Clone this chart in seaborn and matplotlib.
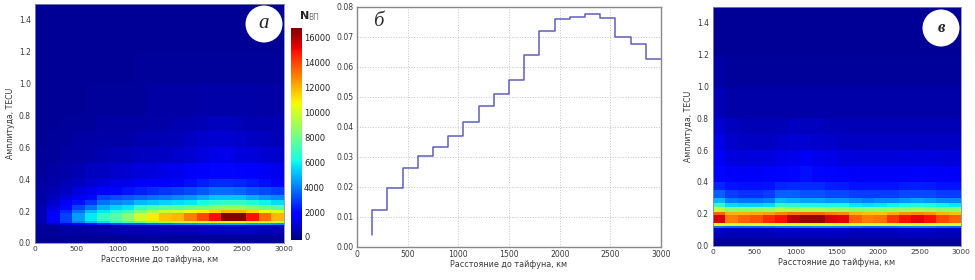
import numpy as np
import matplotlib
matplotlib.use("Agg")
import matplotlib.pyplot as plt
from matplotlib.patches import Ellipse
import seaborn as sns

# bin edges
dist_edges = [0,150,300,450,600,750,900,1050,1200,1350,1500,1650,1800,1950,2100,2250,2400,2550,2700,2850,3000]
amp_edges = [0,.05,.11,.125,.14,.19,.21,.24,.27,.30,.35,.40,.50,.60,.70,.80,1.0,1.2,1.5]

# panel a, counts in thousands, rows bottom to top
counts_a = [
 [.1,.1,.1,.1,.1,.1,.1,.2,.2,.2,.2,.2,.2,.2,.2,.2,.2,.2,.2,.2],
 [.2,.2,.3,.3,.4,.4,.5,.5,.5,.6,.6,.6,.6,.7,.7,.7,.7,.7,.6,.6],
 [.4,.8,1.2,1.6,2.2,2.6,3,3.3,3.5,3.8,4,4.2,4.3,4.5,4.6,4.8,4.8,4.6,4.5,4.3],
 [.5,1.6,2.8,4,5,5.6,6.2,7,8,8.5,9,9.5,9.8,10,10.3,10.6,10.6,10.3,10,9.8],
 [.5,1.8,3,4.5,5.8,6.8,7.5,8.5,10,11,11.8,12,13,14,15,16.8,16.8,15,13.3,12],
 [.5,1.5,2.6,3.8,5,5.8,6.4,7,8.4,9.2,9.8,10,10.6,11,11.4,12,12,11.4,10.6,10.4],
 [.5,1.2,2,3,3.8,4.8,5.4,5.8,6.8,7.2,7.4,7.6,8,8.2,8.6,8.8,8.8,8.4,8,7.6],
 [.4,.9,1.5,2.1,2.8,3.8,4.2,4.4,5,5.2,5.4,5.6,5.8,6.2,6.6,6.8,6.8,6.4,6,5.6],
 [.4,.7,1.1,1.5,2,3,3.2,3.4,3.6,3.8,4,4.2,4.4,4.8,5.2,5.2,5.2,4.8,4.4,4.2],
 [.3,.5,.8,1.1,1.4,1.8,2,2.2,2.4,2.6,2.8,2.9,3.1,3.4,3.7,3.7,3.6,3.3,3.1,2.9],
 [.3,.4,.6,.8,1,1.2,1.3,1.4,1.6,1.7,1.8,1.9,2.1,2.4,2.6,2.6,2.5,2.3,2.1,1.9],
 [.2,.3,.4,.5,.7,.8,.9,1,1.1,1.2,1.3,1.4,1.6,1.8,2,2,1.9,1.7,1.5,1.4],
 [.2,.2,.3,.3,.4,.5,.6,.6,.7,.8,.8,.9,1,1.2,1.3,1.4,1.2,1.1,1,.9],
 [.1,.2,.2,.3,.3,.4,.4,.4,.5,.5,.6,.6,.8,.9,1,1,.9,.8,.7,.6],
 [.1,.1,.2,.2,.2,.3,.3,.3,.3,.4,.4,.5,.5,.6,.7,.7,.6,.5,.5,.5],
 [.1,.1,.1,.1,.2,.2,.2,.2,.2,.3,.3,.3,.3,.4,.4,.4,.4,.4,.3,.3],
 [.1,.1,.1,.1,.1,.1,.1,.1,.2,.2,.2,.2,.2,.2,.2,.2,.2,.2,.2,.2],
 [.1,.1,.1,.1,.1,.1,.1,.1,.1,.1,.1,.1,.1,.1,.1,.1,.1,.1,.1,.1],
]

# panel v, counts in thousands, rows bottom to top
counts_v = [
 [.2,.2,.2,.2,.2,.2,.2,.2,.2,.2,.2,.2,.2,.2,.2,.2,.2,.2,.2,.2],
 [.7,.6,.6,.6,.6,.7,.7,.7,.7,.7,.7,.6,.6,.6,.6,.7,.7,.7,.6,.6],
 [3.8,3.6,3.6,3.6,3.7,3.9,4,4,4.1,4,4,3.8,3.6,3.6,3.7,3.9,4,3.9,3.7,3.6],
 [10.6,10.2,10.2,10.3,10.5,10.6,10.7,10.8,10.8,10.7,10.6,10.4,10.3,10.3,10.4,10.6,10.7,10.6,10.4,10.3],
 [15.5,13,13.5,13.8,14.5,15,16,16.4,16.4,15.5,15.3,13.5,13,13.2,14.3,15,15.3,15,14,13.5],
 [13.5,12,12,12.2,12.4,12.8,13.2,13.4,13.4,13,12.8,12,11.8,11.8,12.2,12.6,12.8,12.6,12,11.8],
 [9.6,8.6,8.6,8.6,8.8,9.4,9.2,9.2,9.2,9,8.8,8.6,8.4,8.6,8.8,8.8,9,8.8,8.6,8.6],
 [6.8,5.6,5.4,5.4,5.6,6.8,6.6,6.4,6.4,6.2,6.2,5.8,5.6,5.8,6,6.2,6.4,6.2,6,5.8],
 [5,4,3.8,3.8,4,5,4.8,4.6,4.6,4.4,4.4,4.2,4,4.2,4.2,4.4,4.6,4.4,4.2,4.2],
 [3.5,2.9,2.7,2.7,2.9,3.5,3.5,3.3,3.3,3.1,3.1,2.9,2.9,2.9,2.9,3.1,3.1,3.1,2.9,2.9],
 [2.5,2.2,2.1,2.1,2.2,2.5,2.6,2.6,2.6,2.4,2.3,2.2,2.2,2.2,2.2,2.3,2.4,2.3,2.2,2.2],
 [2,1.6,1.6,1.6,1.7,1.9,2,2.1,2,1.9,1.8,1.6,1.5,1.5,1.6,1.6,1.7,1.6,1.6,1.5],
 [1.5,1.2,1.1,1.2,1.2,1.3,1.4,1.5,1.4,1.3,1.2,1.2,1.1,1.1,1.1,1.2,1.2,1.2,1.1,1.1],
 [1.3,.9,.8,.8,.8,.9,1,1,.9,.9,.8,.8,.8,.8,.8,.8,.8,.8,.8,.8],
 [1,.7,.6,.6,.6,.6,.7,.7,.7,.6,.6,.6,.6,.6,.6,.6,.6,.6,.6,.6],
 [.6,.4,.4,.4,.4,.4,.4,.4,.4,.4,.4,.4,.4,.4,.4,.4,.4,.4,.4,.4],
 [.3,.2,.2,.2,.2,.2,.2,.2,.2,.2,.2,.2,.2,.2,.2,.2,.2,.2,.2,.2],
 [.1,.1,.1,.1,.1,.1,.1,.1,.1,.1,.1,.1,.1,.1,.1,.1,.1,.1,.1,.1],
]

# panel b, step curve
step_dist = [150,150,300,450,600,750,900,1050,1200,1350,1500,1650,1800,1950,2100,2250,2400,2550,2700,2850,3000]
step_prob = [.004,.0123,.0197,.0263,.0303,.0333,.037,.0417,.047,.051,.0555,.0638,.072,.076,.0765,.0778,.0762,.07,.0675,.0625,.0625]

xticks = [0,500,1000,1500,2000,2500,3000]
amp_ticks = [0,.2,.4,.6,.8,1.0,1.2,1.4]
prob_ticks = [0,.01,.02,.03,.04,.05,.06,.07,.08]
cbar_ticks = [0,2000,4000,6000,8000,10000,12000,14000,16000]
xlabel = "Расстояние до тайфуна, км"
ylabel = "Амплитуда, TECU"

sns.set_theme(style="white")
plt.rcParams["font.family"] = ["DejaVu Sans"]
W, H = 975, 280
TXT = "#3a3a3a"

def box(x0, y0, x1, y1):
    return [x0 / W, 1 - y1 / H, (x1 - x0) / W, (y1 - y0) / H]

fig = plt.figure(figsize=(W / 100, H / 100), dpi=100)

def heat(pos, counts, letter, cxy, bold=False):
    ax = fig.add_axes(box(*pos))
    m = ax.pcolormesh(dist_edges, amp_edges, np.array(counts) * 1000, cmap="jet",
                      vmin=-250, vmax=16800, shading="flat", rasterized=True)
    ax.set_xlim(0, 3000)
    ax.set_ylim(0, 1.5)
    ax.set_xticks(xticks)
    ax.set_yticks(amp_ticks)
    ax.set_yticklabels([f"{t:.1f}" for t in amp_ticks])
    ax.tick_params(axis="x", labelsize=5.4, colors=TXT, length=0, pad=2.5)
    ax.tick_params(axis="y", labelsize=5.5, colors=TXT, length=0, pad=3)
    ax.set_xlabel(xlabel, fontsize=5.8, color=TXT, labelpad=2)
    ax.set_ylabel(ylabel, fontsize=5.6, color=TXT, labelpad=3)
    for s in ax.spines.values():
        s.set_linewidth(0.6)
        s.set_color("#8888aa")
    fx = (cxy[0] - pos[0]) / (pos[2] - pos[0])
    fy = (pos[3] - cxy[1]) / (pos[3] - pos[1])
    ax.add_patch(Ellipse((fx, fy), 37 / (pos[2] - pos[0]), 37 / (pos[3] - pos[1]),
                         transform=ax.transAxes, fc="white", ec="none", zorder=5))
    ax.text(fx, fy, letter, transform=ax.transAxes, ha="center", va="center", zorder=6,
            family="Liberation Serif", style="italic", fontweight="bold" if bold else "normal",
            fontsize=15 if not bold else 12, color="#222222")
    return ax, m

ax_a, mesh = heat((35, 4, 283.5, 243), counts_a, "а", (264, 24))
ax_v, _ = heat((713, 7, 961, 245.5), counts_v, "в", (941, 28), bold=True)

cax = fig.add_axes(box(291, 28, 302, 240))
cb = fig.colorbar(mesh, cax=cax, ticks=cbar_ticks)
cb.ax.tick_params(labelsize=6, colors="#222222", length=0, pad=1.5)
cb.outline.set_visible(False)
fig.text(300 / W, 1 - 16 / H, "N", fontsize=8, fontweight="bold", color="#222222", ha="left", va="center")
fig.text(308 / W, 1 - 18 / H, "ВП", fontsize=5.5, color="#777777", ha="left", va="center")

ax_b = fig.add_axes(box(357, 7, 661, 246.5))
sns.lineplot(x=step_dist, y=step_prob, ax=ax_b, drawstyle="steps-post", sort=False,
             estimator=None, errorbar=None, color="#5f5fc0", linewidth=1.1)
ax_b.set_xlim(0, 3000)
ax_b.set_ylim(0, .08)
ax_b.set_xticks(xticks)
ax_b.set_yticks(prob_ticks)
ax_b.set_yticklabels([f"{t:.2f}" for t in prob_ticks])
ax_b.grid(True, linestyle=":", linewidth=0.7, color="#c4c4c4")
ax_b.tick_params(axis="both", labelsize=5.6, colors=TXT, length=0, pad=2.5)
ax_b.set_xlabel(xlabel, fontsize=5.8, color=TXT, labelpad=1)
for s in ax_b.spines.values():
    s.set_linewidth(1.0)
    s.set_color("#888888")
ax_b.text((378 - 357) / 304, 1 - (22 - 7) / 239.5, "б", transform=ax_b.transAxes, ha="center", va="center",
          family="Liberation Serif", style="italic", fontsize=15, color="#333333")

fig.savefig("out.png", dpi=100)
